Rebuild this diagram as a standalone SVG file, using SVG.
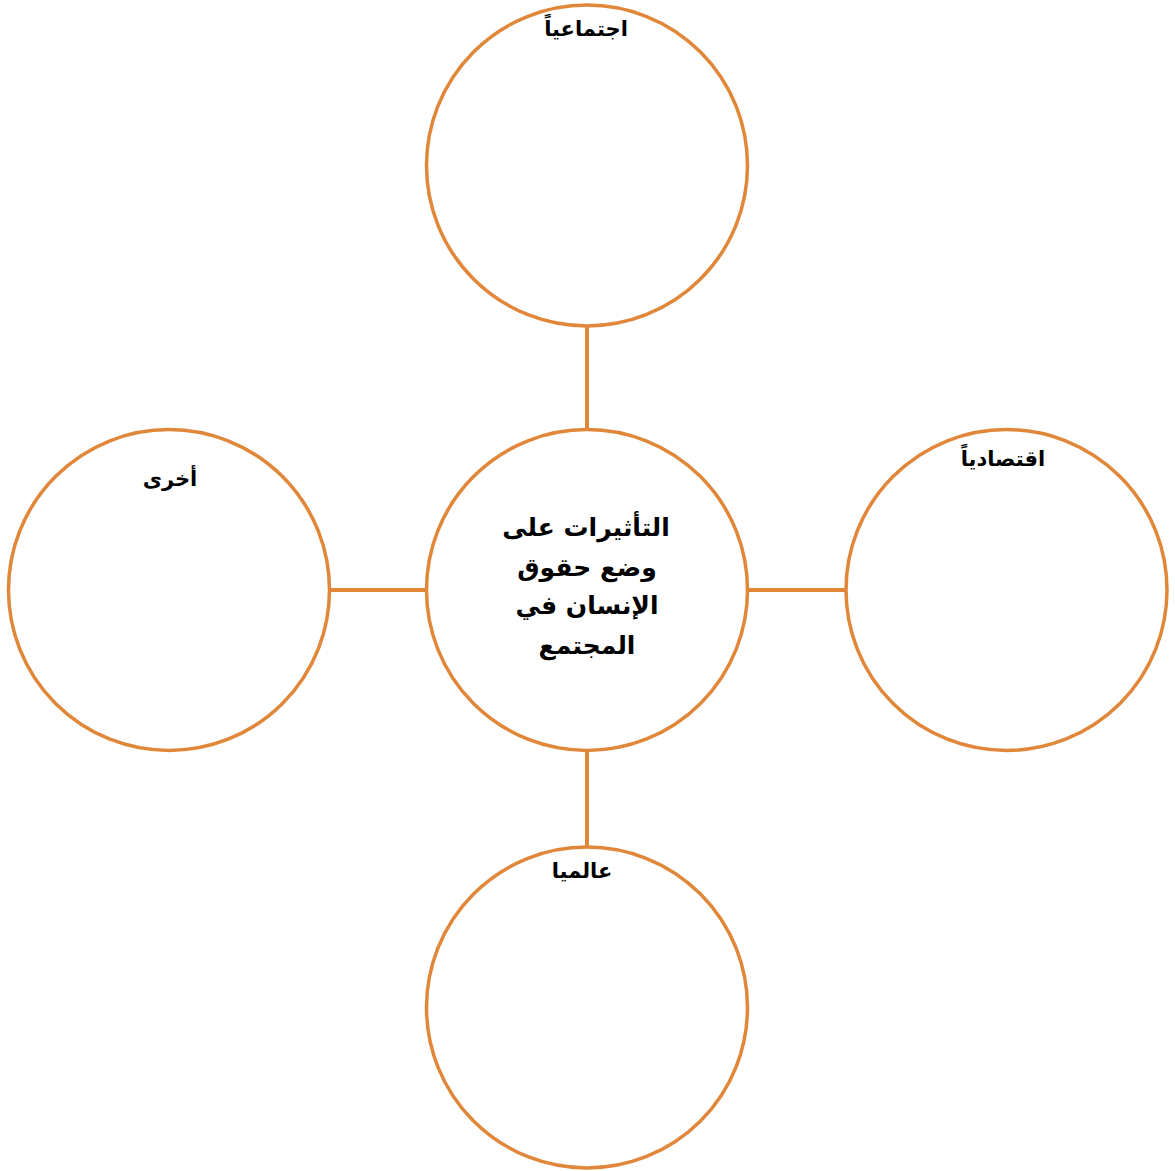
<svg xmlns="http://www.w3.org/2000/svg" width="1175" height="1171" viewBox="0 0 1175 1171">
<style>
.c{fill:#fff;stroke:#E0873A;stroke-width:3.5}
.l{stroke:#E0873A;stroke-width:4}
.t{font-family:"DejaVu Sans","Noto Sans",sans-serif;font-weight:bold;fill:#000;text-anchor:middle;direction:rtl}
.s{font-size:21px}
.m{font-size:25px}
</style>
<rect width="1175" height="1171" fill="#fff"/>
<g id="connectors">
<line class="l" x1="587" y1="326" x2="587" y2="430"/>
<line class="l" x1="587" y1="750" x2="587" y2="848"/>
<line class="l" x1="330" y1="590" x2="427" y2="590"/>
<line class="l" x1="747" y1="590" x2="846" y2="590"/>
</g>
<g id="center">
<circle class="c" cx="587" cy="590" r="160.5"/>
<text class="t m" x="586" y="536">التأثيرات على</text>
<text class="t m" x="587" y="576">وضع حقوق</text>
<text class="t m" x="587" y="614">الإنسان في</text>
<text class="t m" x="587" y="654">المجتمع</text>
</g>
<g id="top">
<circle class="c" cx="587" cy="165.5" r="160.5"/>
<text class="t s" x="586" y="36">اجتماعياً</text>
</g>
<g id="right">
<circle class="c" cx="1006.5" cy="590" r="160.5"/>
<text class="t s" x="1003" y="466">اقتصادياً</text>
</g>
<g id="left">
<circle class="c" cx="169" cy="590" r="160.5"/>
<text class="t s" x="170" y="486">أخرى</text>
</g>
<g id="bottom">
<circle class="c" cx="587" cy="1007.5" r="160.5"/>
<text class="t s" x="582" y="878">عالميا</text>
</g>
</svg>
